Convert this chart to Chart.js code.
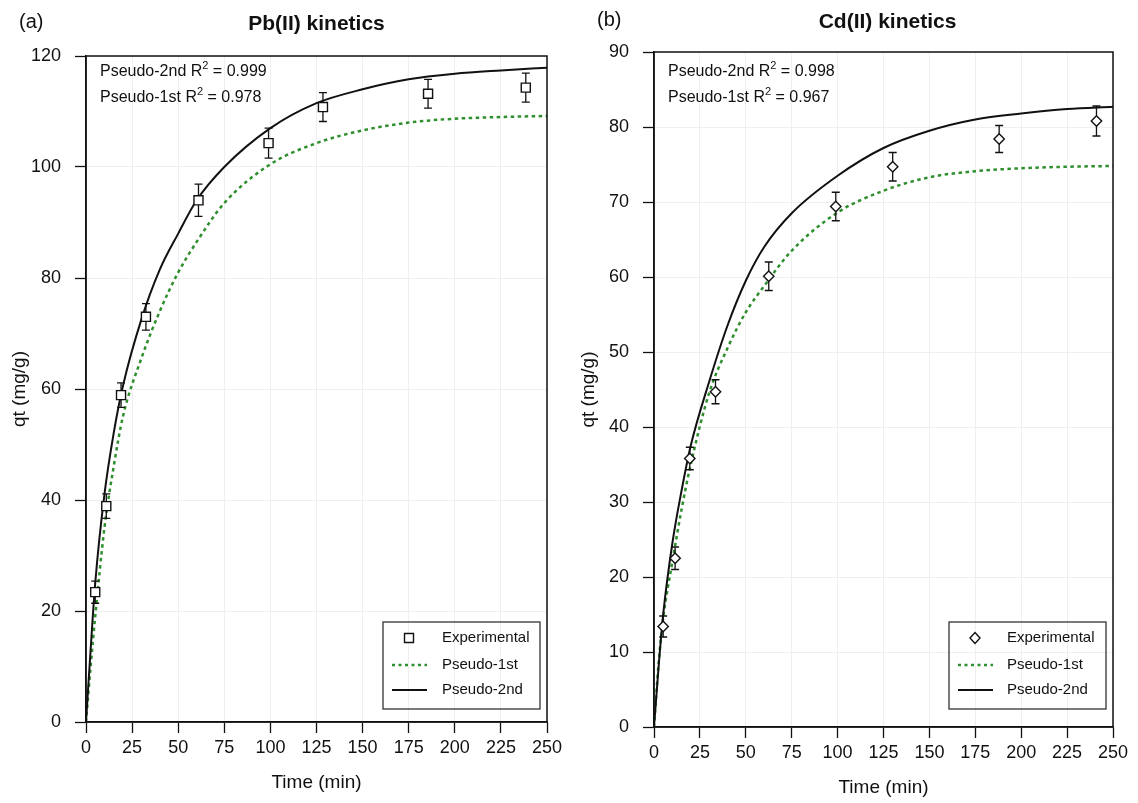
<!DOCTYPE html>
<html>
<head>
<meta charset="utf-8">
<script src="https://cdn.jsdelivr.net/npm/chart.js@4.4.1/dist/chart.umd.min.js"></script>
<style>
  body { margin: 0; background: #fff; }
  .panel { position: absolute; top: 0; width: 569px; height: 803px; }
</style>
</head>
<body>
<div class="panel" style="left:0"><canvas id="pb"></canvas></div>
<div class="panel" style="left:569px"><canvas id="cd"></canvas></div>
<script>
// shared axes
const timeTicks = [0, 25, 50, 75, 100, 125, 150, 175, 200, 225, 250];
const fitTime = [0, 2.5, 5, 10, 15, 20, 30, 40, 50, 60, 75, 100, 125, 150, 175, 200, 225, 250];

// (a) Pb(II)
const pbTicks = [0, 20, 40, 60, 80, 100, 120];
const pbExpTime = [5, 11, 19, 32.5, 61, 99, 128.5, 185.5, 238.5];
const pbExpQ = [23.4, 38.9, 58.9, 73, 94, 104.3, 110.8, 113.2, 114.3];
const pbExpErr = [2.0, 2.2, 2.2, 2.4, 2.9, 2.7, 2.6, 2.6, 2.6];
const pbFirst = [0, 10, 19, 35, 46, 55, 65.5, 74, 81, 86.5, 93.5, 100.5, 104.3, 106.6, 108, 108.7, 109, 109.2];
const pbSecond = [0, 13, 25, 41, 52, 60.5, 72.5, 81.5, 88, 94, 100, 107, 111.5, 114, 115.8, 116.8, 117.4, 117.9];

// (b) Cd(II)
const cdTicks = [0, 10, 20, 30, 40, 50, 60, 70, 80, 90];
const cdExpTime = [5, 11.5, 19.5, 33.5, 62.5, 99, 130, 188, 241];
const cdExpQ = [13.4, 22.5, 35.8, 44.7, 60.1, 69.4, 74.7, 78.4, 80.8];
const cdExpErr = [1.4, 1.5, 1.5, 1.6, 1.9, 1.9, 1.9, 1.8, 2.0];
const cdFirst = [0, 8.5, 14.5, 22, 29, 35, 44.5, 50.5, 55.3, 58.8, 63.5, 68.6, 71.5, 73.3, 74.1, 74.5, 74.7, 74.8];
const cdSecond = [0, 8, 15, 24.5, 31.5, 37.5, 46, 53.5, 59.5, 64, 68.5, 73.5, 77.2, 79.5, 81, 81.8, 82.4, 82.7];

const FONT = "'Liberation Sans', Arial, Helvetica, sans-serif";
const GREEN = '#2f8f2f';
Chart.defaults.font.family = FONT;
Chart.defaults.color = '#111';

function toXY(xs, ys) { return xs.map((x, i) => ({ x: x, y: ys[i] })); }

function drawMarker(ctx, style, x, y) {
  ctx.beginPath();
  if (style === 'rect') {
    ctx.rect(x - 4.5, y - 4.5, 9, 9);
  } else {
    ctx.moveTo(x, y - 5.5); ctx.lineTo(x + 5, y); ctx.lineTo(x, y + 5.5); ctx.lineTo(x - 5, y); ctx.closePath();
  }
  ctx.fillStyle = '#fff'; ctx.fill();
  ctx.strokeStyle = '#111'; ctx.lineWidth = 1.4; ctx.stroke();
}

const decor = {
  id: 'decor',
  beforeDatasetDraw(chart, args, o) {
    if (args.index !== 0) return;
    const ctx = chart.ctx, y = chart.scales.y;
    const meta = chart.getDatasetMeta(0);
    ctx.save();
    ctx.strokeStyle = '#111';
    ctx.lineWidth = 1.3;
    meta.data.forEach((pt, i) => {
      const yt = y.getPixelForValue(o.q[i] + o.err[i]);
      const yb = y.getPixelForValue(o.q[i] - o.err[i]);
      ctx.beginPath();
      ctx.moveTo(pt.x, yt); ctx.lineTo(pt.x, yb);
      ctx.moveTo(pt.x - 4, yt); ctx.lineTo(pt.x + 4, yt);
      ctx.moveTo(pt.x - 4, yb); ctx.lineTo(pt.x + 4, yb);
      ctx.stroke();
    });
    ctx.restore();
  },
  afterDraw(chart, args, o) {
    const ctx = chart.ctx, a = chart.chartArea;
    ctx.save();
    // frame
    ctx.strokeStyle = '#111';
    ctx.lineWidth = 1.5;
    ctx.strokeRect(a.left, a.top, a.right - a.left, a.bottom - a.top);

    ctx.fillStyle = '#111';
    ctx.textBaseline = 'middle';
    // panel label and title
    ctx.font = '20px ' + FONT;
    ctx.textAlign = 'left';
    ctx.fillText(o.panel, o.panelX, o.titleY);
    ctx.font = 'bold 21px ' + FONT;
    ctx.textAlign = 'center';
    ctx.fillText(o.title, (a.left + a.right) / 2 + o.titleDx, o.titleY + 2);

    // axis titles
    ctx.font = '19px ' + FONT;
    ctx.fillText('Time (min)', (a.left + a.right) / 2, a.bottom + 61);
    ctx.save();
    ctx.translate(o.yTitleX, (a.top + a.bottom) / 2);
    ctx.rotate(-Math.PI / 2);
    ctx.fillText('qt (mg/g)', 0, 0);
    ctx.restore();

    // R² annotations
    ctx.textAlign = 'left';
    o.r2.forEach((r, i) => {
      let x = a.left + 14;
      const y = 72 + i * 26;
      ctx.font = '16px ' + FONT;
      const head = r[0] + ' R';
      ctx.fillText(head, x, y);
      x += ctx.measureText(head).width;
      ctx.font = '11px ' + FONT;
      ctx.fillText('2', x, y - 6);
      x += ctx.measureText('2').width;
      ctx.font = '16px ' + FONT;
      ctx.fillText(' = ' + r[1], x, y);
    });

    // legend
    const bw = 157, bh = 87;
    const bx = a.right - 7 - bw, by = 622;
    ctx.strokeStyle = '#333';
    ctx.lineWidth = 1.3;
    ctx.strokeRect(bx, by, bw, bh);
    const rows = [16, 43, 68];
    drawMarker(ctx, o.marker, bx + 26, by + rows[0]);
    ctx.lineWidth = 2.3;
    ctx.strokeStyle = GREEN;
    ctx.setLineDash([3, 3.5]);
    ctx.beginPath(); ctx.moveTo(bx + 9, by + rows[1]); ctx.lineTo(bx + 44, by + rows[1]); ctx.stroke();
    ctx.setLineDash([]);
    ctx.strokeStyle = '#111';
    ctx.lineWidth = 2;
    ctx.beginPath(); ctx.moveTo(bx + 9, by + rows[2]); ctx.lineTo(bx + 44, by + rows[2]); ctx.stroke();
    ctx.fillStyle = '#111';
    ctx.font = '15px ' + FONT;
    ['Experimental', 'Pseudo-1st', 'Pseudo-2nd'].forEach((t, i) => ctx.fillText(t, bx + o.legendTextX, by + rows[i]));
    ctx.restore();
  }
};

function makePanel(id, p) {
  return new Chart(document.getElementById(id), {
    type: 'scatter',
    data: {
      datasets: [
        {
          label: 'Experimental',
          data: toXY(p.expTime, p.expQ),
          showLine: false,
          pointStyle: p.marker === 'rect' ? 'rect' : 'rectRot',
          pointRadius: p.marker === 'rect' ? 6.4 : 5.2,
          pointBackgroundColor: '#fff',
          pointBorderColor: '#111',
          pointBorderWidth: 1.4,
          order: 0
        },
        {
          label: 'Pseudo-1st',
          type: 'line',
          data: toXY(fitTime, p.first),
          borderColor: GREEN,
          borderWidth: 2.5,
          borderDash: [3.5, 3.5],
          pointRadius: 0,
          cubicInterpolationMode: 'monotone',
          order: 2
        },
        {
          label: 'Pseudo-2nd',
          type: 'line',
          data: toXY(fitTime, p.second),
          borderColor: '#111',
          borderWidth: 2,
          pointRadius: 0,
          cubicInterpolationMode: 'monotone',
          order: 1
        }
      ]
    },
    options: {
      responsive: true,
      maintainAspectRatio: false,
      animation: false,
      layout: { padding: { left: 0, right: p.padRight, top: p.top, bottom: 0 } },
      scales: {
        x: {
          type: 'linear', min: 0, max: 250,
          afterBuildTicks: s => { s.ticks = timeTicks.map(v => ({ value: v })); },
          afterFit: s => { s.height = 803 - p.bottom; },
          grid: { color: '#efefef', tickColor: '#111', tickLength: 11, tickWidth: 1.3 },
          border: { color: '#111', width: 1.5 },
          ticks: { font: { size: 18 }, color: '#111', padding: 4, maxRotation: 0 }
        },
        y: {
          type: 'linear', min: 0, max: p.yTicks[p.yTicks.length - 1],
          afterBuildTicks: s => { s.ticks = p.yTicks.map(v => ({ value: v })); },
          afterFit: s => { s.width = p.left; },
          grid: { color: '#efefef', tickColor: '#111', tickLength: 11, tickWidth: 1.3 },
          border: { color: '#111', width: 1.5 },
          ticks: { font: { size: 18 }, color: '#111', padding: 14 }
        }
      },
      plugins: {
        legend: { display: false },
        tooltip: { enabled: false },
        decor: {
          panel: p.panel, panelX: p.panelX, title: p.title, titleY: p.titleY, titleDx: p.titleDx,
          yTitleX: p.yTitleX, r2: p.r2, marker: p.marker, legendTextX: p.legendTextX,
          q: p.expQ, err: p.expErr
        }
      }
    },
    plugins: [decor]
  });
}

makePanel('pb', {
  panel: '(a)', panelX: 19, title: 'Pb(II) kinetics', titleY: 22, titleDx: 0, yTitleX: 20,
  left: 86, padRight: 22, top: 56, bottom: 722,
  yTicks: pbTicks, expTime: pbExpTime, expQ: pbExpQ, expErr: pbExpErr,
  first: pbFirst, second: pbSecond, marker: 'rect', legendTextX: 59,
  r2: [['Pseudo-2nd', '0.999'], ['Pseudo-1st', '0.978']]
});

makePanel('cd', {
  panel: '(b)', panelX: 28, title: 'Cd(II) kinetics', titleY: 20, titleDx: 4, yTitleX: 20,
  left: 85, padRight: 25, top: 52, bottom: 727,
  yTicks: cdTicks, expTime: cdExpTime, expQ: cdExpQ, expErr: cdExpErr,
  first: cdFirst, second: cdSecond, marker: 'diamond', legendTextX: 58,
  r2: [['Pseudo-2nd', '0.998'], ['Pseudo-1st', '0.967']]
});
</script>
</body>
</html>
